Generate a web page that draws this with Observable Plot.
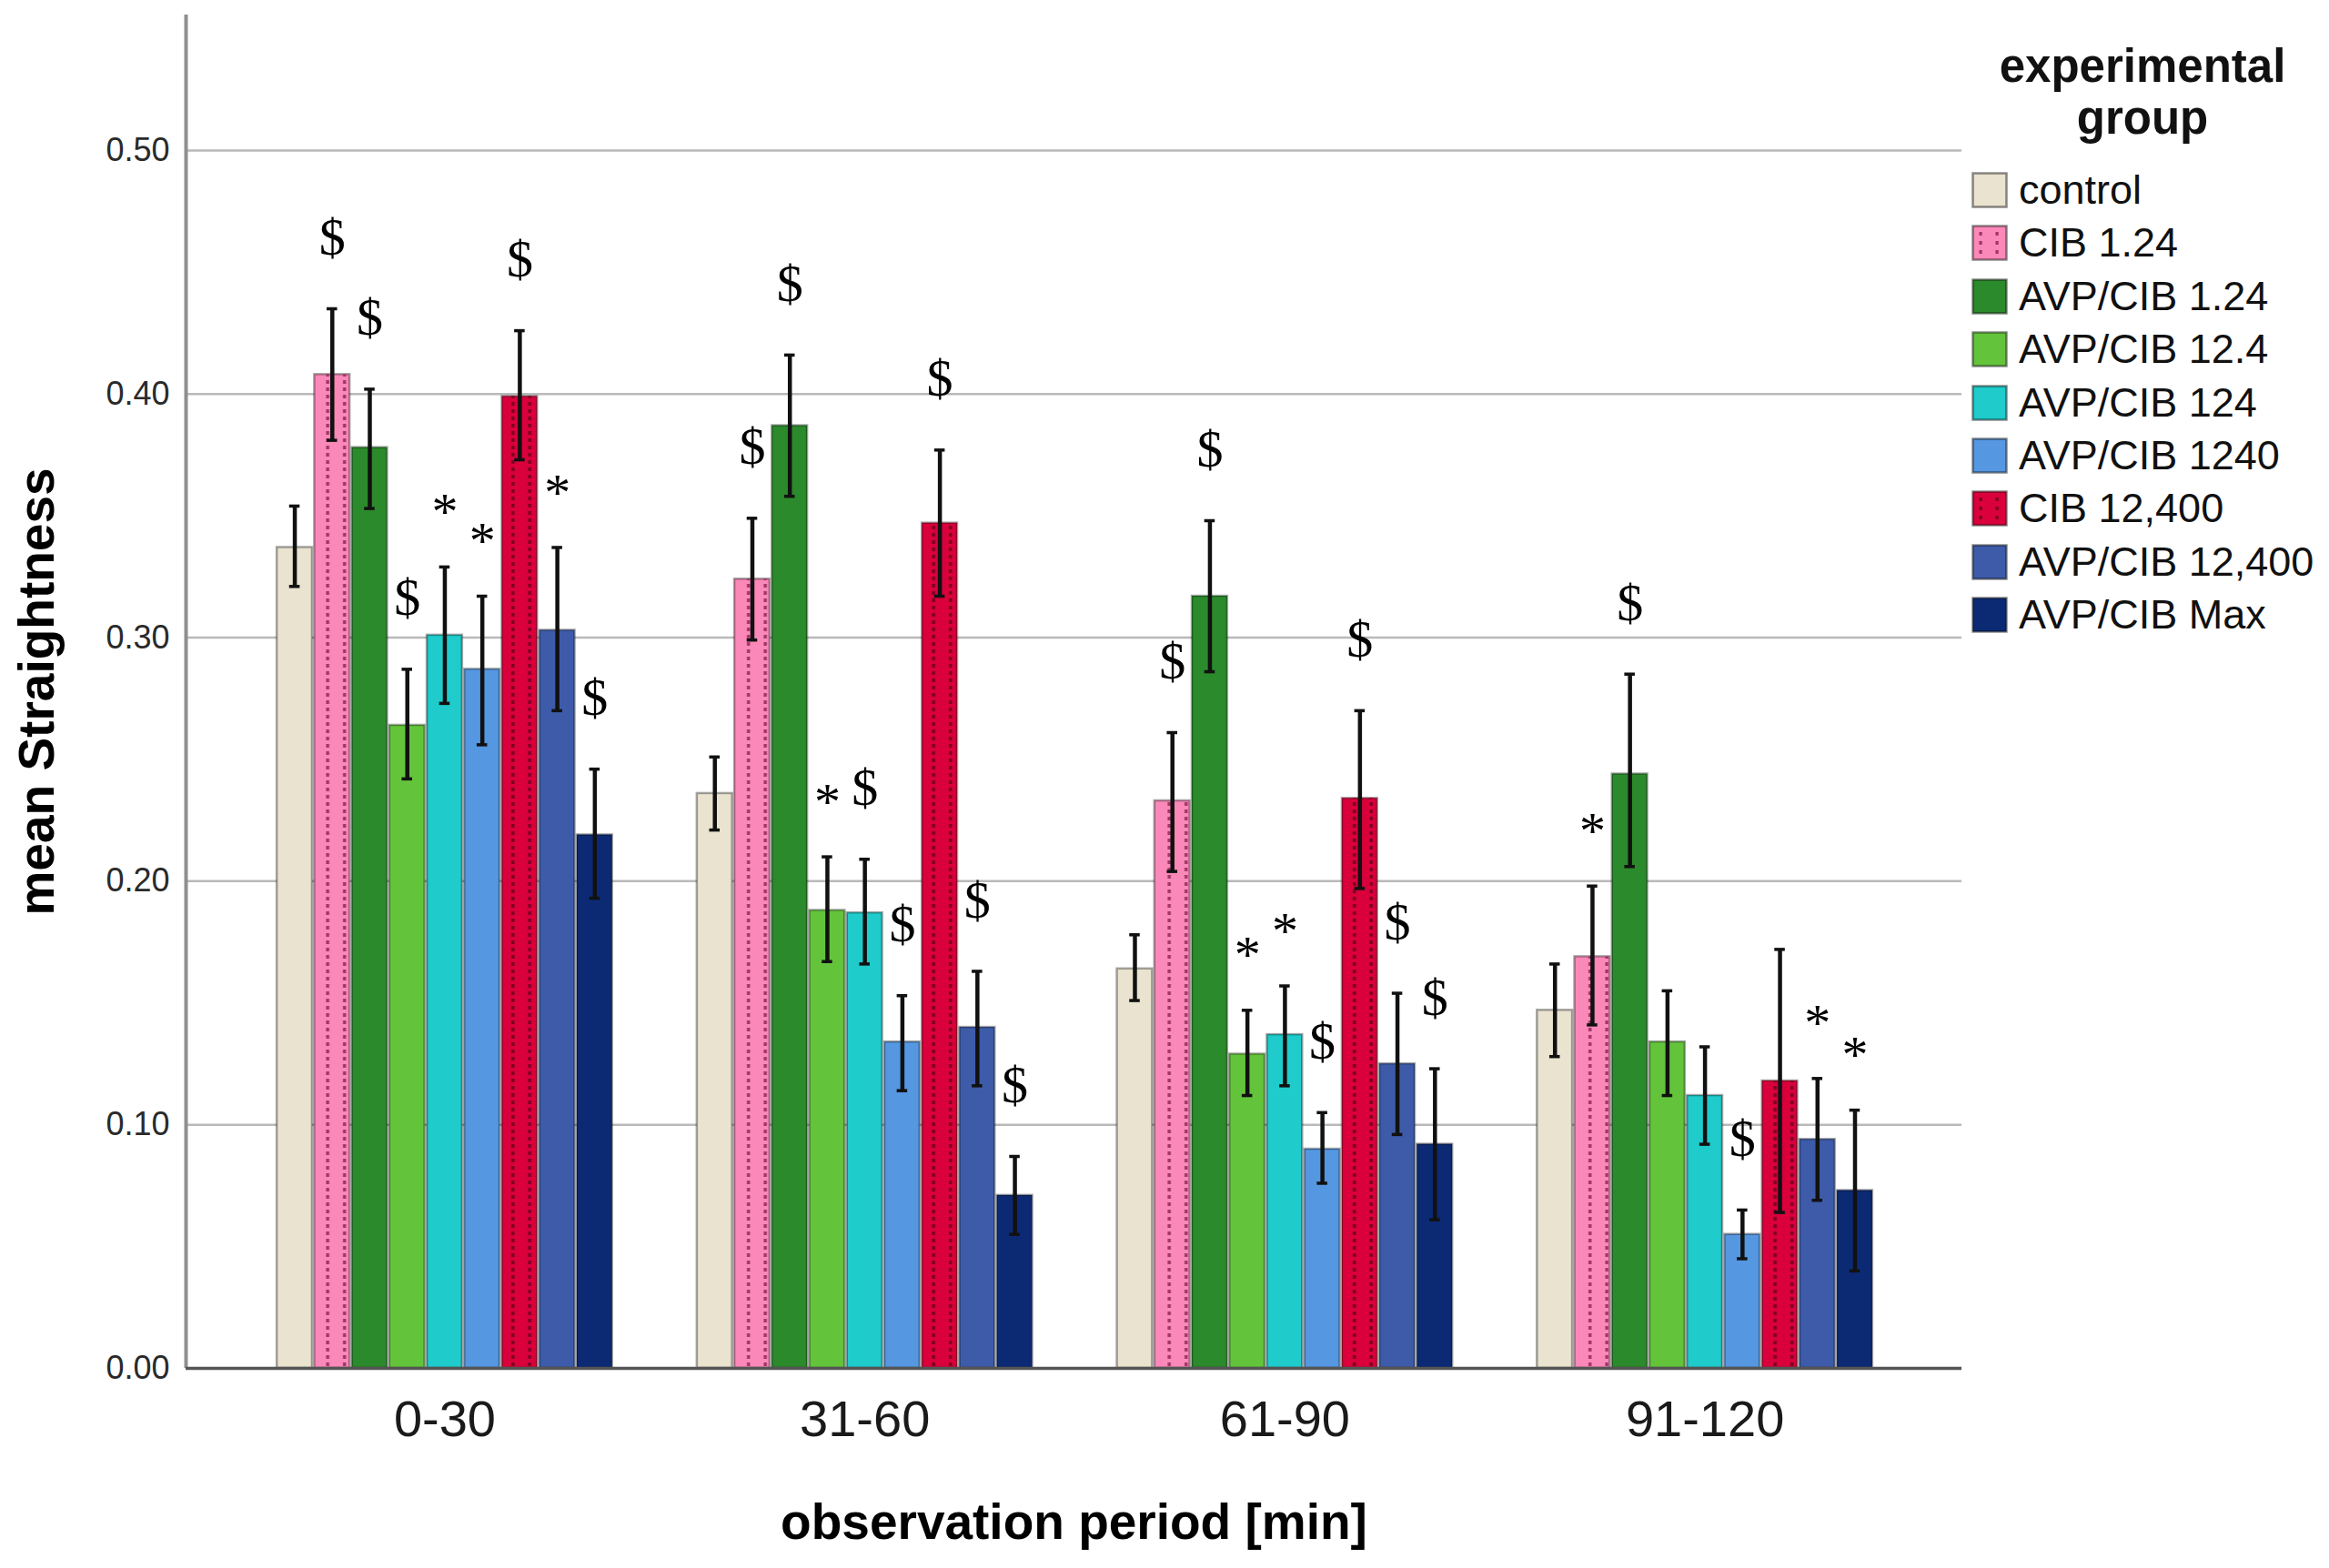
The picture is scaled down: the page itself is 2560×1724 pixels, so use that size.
<!DOCTYPE html>
<html>
<head>
<meta charset="utf-8">
<script src="https://cdn.jsdelivr.net/npm/d3@7"></script>
<script src="https://cdn.jsdelivr.net/npm/@observablehq/plot@0.6"></script>
<style>
  html, body { margin: 0; padding: 0; background: #ffffff; overflow: hidden; }
  #wrap { position: relative; width: 2560px; height: 1724px; background: #fff; }
  #legend { position: absolute; left: 2155px; top: 0; width: 405px; height: 720px; font-family: "Liberation Sans", Arial, sans-serif; color: #111; }
  #legend .title { position: absolute; left: 0; width: 400px; top: 44px; text-align: center; font-weight: bold; font-size: 51px; line-height: 57px; }
  #legend .item { position: absolute; left: 12px; height: 58px; display: flex; align-items: center; font-size: 45px; white-space: nowrap; }
  #legend .item svg { margin-right: 12px; flex: none; }
</style>
</head>
<body>
<div id="wrap"></div>
<script>
// ---------- data ----------
const periods = ["0-30", "31-60", "61-90", "91-120"];
const groups = ["control", "CIB 1.24", "AVP/CIB 1.24", "AVP/CIB 12.4", "AVP/CIB 124",
                "AVP/CIB 1240", "CIB 12,400", "AVP/CIB 12,400", "AVP/CIB Max"];
const colors = ["#e9e3cf", "#fa88b8", "#2b8a2b", "#63c43b", "#1fcbcb",
                "#5597e0", "#d9003b", "#3d5ba9", "#0c2a74"];
const patterned = ["CIB 1.24", "CIB 12,400"];

const mean0_30  = [0.337, 0.408, 0.378, 0.264, 0.301, 0.287, 0.399, 0.303, 0.219];
const low0_30   = [0.321, 0.381, 0.353, 0.242, 0.273, 0.256, 0.373, 0.270, 0.193];
const high0_30  = [0.354, 0.435, 0.402, 0.287, 0.329, 0.317, 0.426, 0.337, 0.246];
const sig0_30   = ["", "$", "$", "$", "*", "*", "$", "*", "$"];

const mean31_60 = [0.236, 0.324, 0.387, 0.188, 0.187, 0.134, 0.347, 0.140, 0.071];
const low31_60  = [0.221, 0.299, 0.358, 0.167, 0.166, 0.114, 0.317, 0.116, 0.055];
const high31_60 = [0.251, 0.349, 0.416, 0.210, 0.209, 0.153, 0.377, 0.163, 0.087];
const sig31_60  = ["", "$", "$", "*", "$", "$", "$", "$", "$"];

const mean61_90 = [0.164, 0.233, 0.317, 0.129, 0.137, 0.090, 0.234, 0.125, 0.092];
const low61_90  = [0.151, 0.204, 0.286, 0.112, 0.116, 0.076, 0.197, 0.096, 0.061];
const high61_90 = [0.178, 0.261, 0.348, 0.147, 0.157, 0.105, 0.270, 0.154, 0.123];
const sig61_90  = ["", "$", "$", "*", "*", "$", "$", "$", "$"];

const mean91_120 = [0.147, 0.169, 0.244, 0.134, 0.112, 0.055, 0.118, 0.094, 0.073];
const low91_120  = [0.128, 0.141, 0.206, 0.112, 0.092, 0.045, 0.064, 0.069, 0.040];
const high91_120 = [0.166, 0.198, 0.285, 0.155, 0.132, 0.065, 0.172, 0.119, 0.106];
const sig91_120  = ["", "*", "$", "", "", "$", "", "*", "*"];

const yTicks = [0, 0.1, 0.2, 0.3, 0.4, 0.5];
const xTitle = "observation period [min]";
const yTitle = "mean Straightness";
const legendTitle = ["experimental", "group"];

// ---------- table ----------
const means = [mean0_30, mean31_60, mean61_90, mean91_120];
const lows  = [low0_30, low31_60, low61_90, low91_120];
const highs = [high0_30, high31_60, high61_90, high91_120];
const sigs  = [sig0_30, sig31_60, sig61_90, sig91_120];

// layout (in bar-width units)
const STEP = 11.2;
const XMIN = -2.40, XMAX = 44.95;

const rows = [];
periods.forEach((p, pi) => {
  groups.forEach((g, gi) => {
    const x1 = pi * STEP + gi;
    rows.push({period: p, group: g, x1, x2: x1 + 1, xc: x1 + 0.5,
               mean: means[pi][gi], lo: lows[pi][gi], hi: highs[pi][gi], sig: sigs[pi][gi]});
  });
});
const centers = periods.map((p, i) => i * STEP + groups.length / 2);

const sansFont = "'Liberation Sans', Arial, sans-serif";
const serifFont = "'Liberation Serif', 'Times New Roman', serif";

const plot = Plot.plot({
  width: 2560,
  height: 1724,
  marginLeft: 204,
  marginRight: 404,
  marginTop: 16,
  marginBottom: 220,
  style: {fontFamily: sansFont, background: "#ffffff", color: "#111"},
  x: {domain: [XMIN, XMAX], axis: null},
  y: {domain: [0, 0.5556], axis: null},
  color: {domain: groups, range: colors},
  marks: [
    Plot.gridY(yTicks.filter(d => d > 0), {stroke: "#b9b9b9", strokeOpacity: 1, strokeWidth: 2.5}),
    Plot.rectY(rows, {x1: "x1", x2: "x2", y: "mean", fill: "group",
                      stroke: "#000", strokeOpacity: 0.35, strokeWidth: 2.5,
                      insetLeft: 1.2, insetRight: 1.2}),
    Plot.rectY(rows.filter(d => d.group === patterned[0]), {x1: "x1", x2: "x2", y: "mean",
                      fill: "url(#dotsPink)", insetLeft: 2.5, insetRight: 2.5}),
    Plot.rectY(rows.filter(d => d.group === patterned[1]), {x1: "x1", x2: "x2", y: "mean",
                      fill: "url(#dotsRed)", insetLeft: 2.5, insetRight: 2.5}),
    // error bars
    Plot.ruleX(rows, {x: "xc", y1: "lo", y2: "hi", stroke: "#111", strokeWidth: 4.5}),
    Plot.ruleY(rows, {y: "hi", x1: d => d.xc - 0.14, x2: d => d.xc + 0.14, stroke: "#111", strokeWidth: 3.5}),
    Plot.ruleY(rows, {y: "lo", x1: d => d.xc - 0.14, x2: d => d.xc + 0.14, stroke: "#111", strokeWidth: 3.5}),
    // axis lines
    Plot.ruleX([XMIN], {stroke: "#8f8f8f", strokeWidth: 4}),
    Plot.ruleY([0], {stroke: "#555", strokeWidth: 3.5}),
    // axes
    Plot.axisY({ticks: yTicks, tickFormat: d3.format(".2f"), tickSize: 0, tickPadding: 18,
                fontSize: 36, fill: "#2a2a2a"}),
    Plot.axisX({ticks: centers, tickFormat: d => periods[Math.round((d - groups.length / 2) / STEP)],
                tickSize: 0, tickPadding: 35, fontSize: 56, fill: "#1a1a1a"}),
    // significance markers
    Plot.text(rows.filter(d => d.sig === "$"), {x: "xc", y: "hi", text: "sig", dy: -78,
              fontFamily: serifFont, fontSize: 58, lineAnchor: "middle", fill: "#000"}),
    Plot.text(rows.filter(d => d.sig === "*"), {x: "xc", y: "hi", text: "sig", dy: -60,
              fontFamily: serifFont, fontSize: 58, lineAnchor: "middle", fill: "#000"}),
    // axis titles
    Plot.text([xTitle], {frameAnchor: "bottom", dy: 170, fontSize: 55, fontWeight: "bold",
              textAnchor: "middle", lineAnchor: "middle", fill: "#000"}),
    Plot.text([yTitle], {frameAnchor: "left", dx: -163, rotate: -90, fontSize: 55, fontWeight: "bold",
              textAnchor: "middle", lineAnchor: "middle", fill: "#000"})
  ]
});

// dotted patterns for the CIB bars
const defs = d3.select(plot).insert("defs", ":first-child");
function addPattern(id, dot) {
  const p = defs.append("pattern").attr("id", id).attr("patternUnits", "userSpaceOnUse")
    .attr("width", 18.5).attr("height", 8);
  p.append("rect").attr("x", 7).attr("y", 2).attr("width", 3.4).attr("height", 4).attr("fill", dot);
}
addPattern("dotsPink", "#9e3566");
addPattern("dotsRed", "#7a0022");

const wrap = document.getElementById("wrap");
wrap.appendChild(plot);

// legend
const legend = document.createElement("div");
legend.id = "legend";
const t = document.createElement("div");
t.className = "title";
t.innerHTML = legendTitle.join("<br>");
legend.appendChild(t);
const rowCenters0 = 209, rowStep = 58.4;
groups.forEach((g, i) => {
  const it = document.createElement("div");
  it.className = "item";
  it.style.top = (rowCenters0 + i * rowStep - 29) + "px";
  const dotted = patterned.includes(g);
  const dotColor = g === patterned[0] ? "#9e3566" : "#7a0022";
  const sw = `<svg width="40" height="40" viewBox="0 0 40 40">
    <rect x="1.5" y="1.5" width="37" height="37" fill="${colors[i]}" stroke="rgba(0,0,0,0.45)" stroke-width="2.5"/>
    ${dotted ? [10, 28].map(x => [8, 18, 28].map(y => `<rect x="${x - 1.5}" y="${y}" width="3.2" height="4" fill="${dotColor}"/>`).join("")).join("") : ""}
  </svg>`;
  it.innerHTML = sw + `<span>${g}</span>`;
  legend.appendChild(it);
});
wrap.appendChild(legend);
</script>
</body>
</html>
